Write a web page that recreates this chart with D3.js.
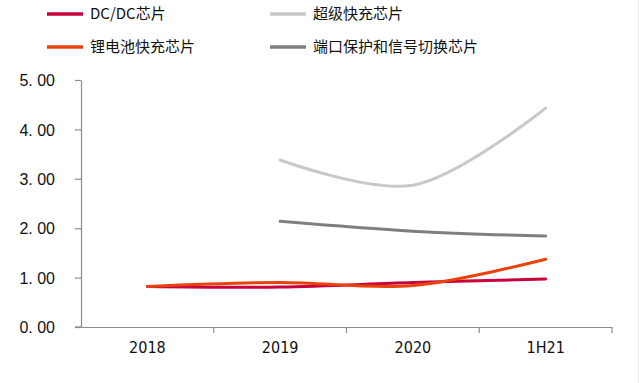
<!DOCTYPE html>
<html><head><meta charset="utf-8">
<script src="https://cdn.jsdelivr.net/npm/d3@7"></script>
<style>body{margin:0;background:#fff}svg{display:block}</style>
</head><body>
<script>
const categories = ["2018", "2019", "2020", "1H21"];
const dcdc = [0.82, 0.81, 0.90, 0.97];
const liBattery = [0.82, 0.90, 0.84, 1.37];
const superFast = [null, 3.38, 2.87, 4.43];
const portProtect = [null, 2.14, 1.94, 1.84];
const yTicks = [0, 1, 2, 3, 4, 5];
const seriesNames = ["DC/DC芯片", "超级快充芯片", "锂电池快充芯片", "端口保护和信号切换芯片"];

const series = [
  {name: seriesNames[0], values: dcdc, color: "#C8003C"},
  {name: seriesNames[1], values: superFast, color: "#C8C8C8"},
  {name: seriesNames[2], values: liBattery, color: "#E8430F"},
  {name: seriesNames[3], values: portProtect, color: "#7F7F7F"}
];

const W = 641, H = 383;
const svg = d3.select("body").append("svg").attr("width", W).attr("height", H);
svg.append("line").attr("x1", 638.5).attr("x2", 638.5).attr("y1", 0).attr("y2", H).attr("stroke", "#eeeeee");

const x = d3.scaleBand().domain(categories).range([81, 612]);
const y = d3.scaleLinear().domain([0, 5]).range([327, 80]);

// Y axis
const yAxis = svg.append("g").attr("transform", "translate(81,0)")
  .call(d3.axisLeft(y).tickValues(yTicks).tickSize(6).tickSizeOuter(0).tickFormat(d => d3.format(".2f")(d).replace(".", ". ")));
yAxis.select(".domain").attr("stroke", "#8c8c8c").attr("stroke-width", 1.2);
yAxis.selectAll(".tick line").attr("stroke", "#8c8c8c").attr("stroke-width", 1.2);
yAxis.selectAll("text").attr("font-family", "Liberation Sans, Arial, sans-serif").attr("font-size", 16).attr("fill", "#111").attr("x", -26).attr("dy", "0.36em");

// X axis
const xAxis = svg.append("g").attr("transform", "translate(0,327)")
  .call(d3.axisBottom(x).tickSize(0).tickSizeOuter(0));
xAxis.select(".domain").attr("stroke", "#8c8c8c").attr("stroke-width", 1.2);
xAxis.selectAll("text").attr("font-family", "DejaVu Sans Condensed, DejaVu Sans, sans-serif").attr("font-size", 16).attr("fill", "#111").attr("y", 15).attr("dy", "0.71em");
// category boundary ticks
const bounds = categories.slice(1).map(c => x(c)).concat([x.range()[1]]);
svg.append("g").selectAll("line").data(bounds).join("line")
  .attr("x1", d => d).attr("x2", d => d).attr("y1", 327).attr("y2", 333)
  .attr("stroke", "#8c8c8c").attr("stroke-width", 1.2);
svg.append("line").attr("x1", 75).attr("x2", 81).attr("y1", 327).attr("y2", 327).attr("stroke", "#8c8c8c").attr("stroke-width", 1.2);

// Lines
const line = d3.line()
  .defined(d => d.v != null)
  .x(d => x(d.c) + x.bandwidth() / 2)
  .y(d => y(d.v))
  .curve(d3.curveCatmullRom.alpha(0.5));

const drawOrder = [series[1], series[3], series[0], series[2]];
svg.append("g").selectAll("path").data(drawOrder).join("path")
  .attr("d", s => line(categories.map((c, i) => ({c, v: s.values[i]}))))
  .attr("fill", "none").attr("stroke", s => s.color).attr("stroke-width", 3).attr("stroke-linecap", "round");

// Legend
const legPos = [[47, 14], [270, 14], [47, 47], [270, 47]];
const leg = svg.append("g").selectAll("g").data(series).join("g")
  .attr("transform", (d, i) => `translate(${legPos[i][0]},${legPos[i][1]})`);
leg.append("line").attr("x1", 0).attr("x2", 36).attr("y1", 0).attr("y2", 0)
  .attr("stroke", d => d.color).attr("stroke-width", 3.5);
leg.append("text").attr("x", 43).attr("y", 0).attr("dy", "0.36em")
  .attr("font-family", "Noto Sans CJK SC, sans-serif").attr("font-size", 15).attr("fill", "#111")
  .text(d => d.name);
</script>
</body></html>
